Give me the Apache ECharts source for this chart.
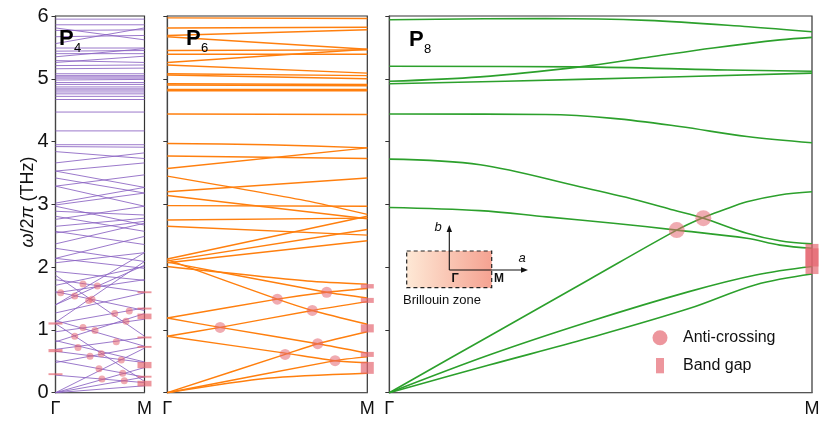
<!DOCTYPE html>
<html>
<head>
<meta charset="utf-8">
<script src="https://cdn.jsdelivr.net/npm/echarts@6/dist/echarts.min.js"></script>
<style>html,body{margin:0;padding:0;background:#fff;}#c{width:830px;height:425px;}</style>
</head>
<body>
<div id="c"></div>
<script>
// ---------- data ----------
const xTickLabels = ['Γ', 'M'];
const yMin = 0, yMax = 6, yStep = 1;

// P4 bands: [value at Γ, value at M] (straight folded branches)
const p4Bands = [
  [5.95,5.95],[5.86,5.86],[5.81,5.62],[5.56,5.81],[5.77,5.78],[5.67,5.69],[5.49,5.49],[5.44,5.45],
  [5.40,5.40],[5.35,5.48],[5.29,5.26],[5.26,5.36],[5.21,5.22],[5.16,5.17],[5.08,5.08],[5.05,5.05],
  [5.03,5.03],[5.01,5.01],[4.98,4.99],[4.94,4.94],[4.91,4.91],[4.87,4.87],[4.84,4.84],[4.82,4.82],
  [4.79,4.79],[4.76,4.76],[4.72,4.72],[4.67,4.67],[4.47,4.47],[4.17,4.17],
  [3.95,3.95],[3.92,3.91],[3.84,3.73],[3.66,3.82],[3.53,3.66],[3.53,3.27],[3.42,3.18],[3.29,3.47],
  [3.29,2.97],[3.02,3.27],[2.99,3.18],[2.97,2.67],[2.89,2.83],[2.81,2.57],[2.76,2.97],[2.65,2.78],
  [2.57,2.36],[2.545,2.73],[2.37,2.70],[2.30,2.09],[2.14,2.49],[2.07,2.23],[2.14,1.98],
  [1.93,1.79],[1.71,2.01],[1.40,2.03],[1.40,2.23],[1.12,2.09],[1.80,1.60],[1.59,1.80],[1.87,0.90],
  [1.61,1.31],[1.27,1.59],[1.10,1.35],[1.15,0.74],[1.10,0.18],[0.97,1.17],[0.81,1.26],[0.83,0.49],
  [0.69,0.88],[0.66,0.48],[0.48,0.74],[0.51,0.25],[0.28,0.16],[0,0.71],[0,0.40],[0,0.25],[0,0.11]
];
const p4Circles = [
  [0.058,1.59],[0.216,1.54],[0.309,1.73],[0.470,1.70],[0.373,1.47],[0.410,1.49],[0.665,1.26],
  [0.829,1.30],[0.792,1.14],[0.309,1.04],[0.444,0.99],[0.216,0.90],[0.683,0.81],[0.253,0.72],
  [0.388,0.58],[0.515,0.62],[0.739,0.52],[0.489,0.38],[0.755,0.31],[0.522,0.22],[0.773,0.19]
];
const p4GapsGamma = [[1.085,1.12],[0.645,0.695],[0.28,0.31]];
const p4GapsM = [[1.585,1.615],[1.325,1.355],[1.17,1.26],[0.865,0.895],[0.715,0.745],[0.39,0.49],[0.24,0.27],[0.10,0.19]];

// P6 bands: lists of [k, value]
const p6Bands = [
  [[0,5.97],[1,5.96]],[[0,5.81],[1,5.82]],[[0,5.69],[1,5.78]],[[0,5.67],[1,5.47]],
  [[0,5.45],[1,5.46]],[[0,5.39],[1,5.39]],[[0,5.26],[1,5.47]],[[0,5.22],[1,5.09]],
  [[0,5.08],[1,5.05]],[[0,5.06],[1,5.00]],[[0,4.92],[1,4.91]],[[0,4.90],[1,4.89]],
  [[0,4.83],[1,4.83]],[[0,4.81],[1,4.81]],[[0,4.44],[1,4.43]],
  [[0,3.97],[0.5,3.95],[1,3.90]],[[0,3.77],[1,3.73]],[[0,3.57],[1,3.90]],
  [[0,3.45],[0.69,3.06],[1,2.84]],[[0,3.20],[1,3.42]],[[0,3.14],[1,2.77]],
  [[0,2.98],[1,2.97]],[[0,2.75],[1,2.78]],[[0,2.65],[1,2.51]],
  [[0,2.13],[1,2.81]],[[0,2.10],[1,2.60]],[[0,2.07],[1,2.42]],
  [[0,2.01],[0.7,1.78],[1,1.73]],
  [[0,2.12],[0.55,1.49],[0.725,1.31],[1,1.09]],
  [[0,2.08],[0.797,1.60],[1,1.51]],
  [[0,1.19],[0.55,1.49],[0.797,1.60],[1,1.66]],
  [[0,1.19],[0.264,1.04],[0.752,0.78],[1,0.63]],
  [[0,0.90],[0.264,1.04],[0.725,1.31],[1,1.45]],
  [[0,0.90],[0.589,0.63],[0.839,0.51],[1,0.48]],
  [[0,0],[0.589,0.61],[0.752,0.78],[1,0.97]],
  [[0,0],[0.839,0.51],[1,0.57]],
  [[0,0],[0.5,0.23],[1,0.31]]
];
const p6Circles = [[0.264,1.04],[0.55,1.49],[0.797,1.60],[0.725,1.31],[0.589,0.61],[0.752,0.78],[0.839,0.51]];
const p6GapsM = [[1.66,1.73],[1.43,1.51],[0.96,1.09],[0.57,0.65],[0.30,0.49]];

// P8 bands
const p8Bands = [
  [[0,5.94],[0.37,5.96],[0.61,5.93],[0.85,5.83],[1,5.75]],
  [[0,4.96],[0.215,5.03],[0.451,5.19],[0.609,5.34],[0.766,5.49],[0.924,5.62],[1,5.66]],
  [[0,5.20],[0.45,5.19],[0.8,5.14],[1,5.12]],
  [[0,4.92],[0.45,4.99],[1,5.09]],
  [[0,4.44],[0.37,4.43],[0.529,4.37],[0.687,4.24],[0.846,4.08],[1,3.98]],
  [[0,3.72],[0.215,3.63],[0.451,3.28],[0.585,3.07],[0.672,2.91],[0.743,2.78],[0.846,2.54],[0.924,2.42],[1,2.37]],
  [[0,2.95],[0.214,2.90],[0.372,2.80],[0.53,2.70],[0.68,2.59],[0.846,2.46],[0.924,2.35],[1,2.30]],
  [[0,0],[0.236,0.90],[0.472,1.80],[0.68,2.59],[0.743,2.79],[0.79,2.91],[0.846,3.04],[0.924,3.15],[1,3.20]],
  [[0,0],[0.236,0.60],[0.472,1.13],[0.709,1.61],[0.867,1.875],[1,2.01]],
  [[0,0],[0.236,0.44],[0.472,0.87],[0.709,1.34],[0.867,1.72],[1,1.89]]
];
const p8Circles = [[0.680,2.59],[0.743,2.78]];
const p8GapsM = [[1.89,2.30],[2.01,2.37]];

const panelNames = ['4', '6', '8'];

// ---------- styling ----------
const FONT = 'Liberation Sans, Arial, Helvetica, sans-serif';
const PINK = 'rgba(228,100,110,0.68)';
const grids = [
  {left: 55.5, top: 16, width: 89, height: 376.7},
  {left: 167.3, top: 16, width: 200, height: 376.7},
  {left: 389.3, top: 16, width: 422.7, height: 376.7}
];

const chart = echarts.init(document.getElementById('c'), null, {renderer: 'canvas'});

function bandSeries(bands, gi, color, width, opacity, smooth) {
  return bands.map(pts => ({
    type: 'line', xAxisIndex: gi, yAxisIndex: gi, data: pts,
    symbol: 'none', showSymbol: false, smooth: pts.length > 2 ? smooth : false,
    lineStyle: {color: color, width: width, opacity: opacity},
    silent: true, animation: false, z: 2
  }));
}
function circleSeries(pts, gi, size) {
  return {type: 'scatter', xAxisIndex: gi, yAxisIndex: gi, data: pts, symbol: 'circle',
    symbolSize: size, itemStyle: {color: PINK}, silent: true, animation: false, z: 5};
}
function gapSeries(gaps, k, gi, w) {
  return {type: 'custom', xAxisIndex: gi, yAxisIndex: gi, clip: false, silent: true, animation: false, z: 6,
    data: gaps.map(g => [k, g[0], g[1]]),
    encode: {x: 0, y: [1, 2]},
    renderItem: function (params, api) {
      const p0 = api.coord([api.value(0), api.value(1)]);
      const p1 = api.coord([api.value(0), api.value(2)]);
      return {type: 'rect', shape: {x: p0[0] - w / 2, y: p1[1], width: w, height: Math.max(p0[1] - p1[1], 1)},
        style: {fill: PINK}};
    }};
}

const series = [].concat(
  bandSeries(p4Bands.map(b => [[0, b[0]], [1, b[1]]]), 0, '#8a62c2', 1, 0.85, false),
  bandSeries(p6Bands, 1, '#ff7f0e', 1.4, 1, 0.25),
  bandSeries(p8Bands, 2, '#2ca02c', 1.6, 1, 0.35),
  [circleSeries(p4Circles, 0, 7), circleSeries(p6Circles, 1, 11), circleSeries(p8Circles, 2, 16),
   gapSeries(p4GapsGamma, 0, 0, 14), gapSeries(p4GapsM, 1, 0, 14),
   gapSeries(p6GapsM, 1, 1, 13), gapSeries(p8GapsM, 1, 2, 13)]
);

const xAxes = grids.map((g, i) => ({
  type: 'value', gridIndex: i, min: 0, max: 1, interval: 1,
  axisLine: {show: true, lineStyle: {color: '#555', width: 1.2}},
  axisTick: {show: false}, splitLine: {show: false},
  axisLabel: {fontSize: 18, color: '#111', fontFamily: FONT, margin: 7,
    formatter: v => xTickLabels[Math.round(v)]}
}));
const yAxes = grids.map((g, i) => ({
  type: 'value', gridIndex: i, min: yMin, max: yMax, interval: yStep,
  axisLine: {show: true, lineStyle: {color: '#444', width: 1.2}},
  axisTick: {show: true, length: 4, lineStyle: {color: '#333'}},
  splitLine: {show: false},
  axisLabel: {show: i === 0, fontSize: 20, color: '#111', fontFamily: FONT, margin: 7}
}));

const graphics = [];
// panel labels
const labelPos = [[59, 39], [186, 39], [409, 40]];
labelPos.forEach((p, i) => {
  graphics.push({type: 'text', x: p[0], y: p[1], z: 20,
    style: {text: 'P', font: 'bold 22px ' + FONT, fill: '#000', verticalAlign: 'middle', align: 'left'}});
  graphics.push({type: 'text', x: p[0] + 15, y: p[1] + 9, z: 20,
    style: {text: panelNames[i], font: '13px ' + FONT, fill: '#000', verticalAlign: 'middle', align: 'left'}});
});
// y axis title
graphics.push({type: 'text', x: 28, y: 202, rotation: Math.PI / 2, z: 20,
  style: {text: '{i|ω}/2{i|π} (THz)', fontSize: 18, fontFamily: FONT, fill: '#111',
    align: 'center', verticalAlign: 'middle',
    rich: {i: {fontStyle: 'italic', fontSize: 18, fontFamily: FONT, fill: '#111'}}}});
// Brillouin zone inset
graphics.push({type: 'rect', z: 20, shape: {x: 406.7, y: 251, width: 85, height: 36.7},
  style: {fill: new echarts.graphic.LinearGradient(0, 0, 1, 0, [
    {offset: 0, color: '#fee9d6'}, {offset: 1, color: '#f5a291'}]),
    stroke: '#222', lineWidth: 1.2, lineDash: [4, 3]}});
graphics.push({type: 'line', z: 21, shape: {x1: 449.3, y1: 270, x2: 449.3, y2: 230}, style: {stroke: '#111', lineWidth: 1.1}});
graphics.push({type: 'polygon', z: 21, shape: {points: [[449.3, 225], [446.6, 232], [452, 232]]}, style: {fill: '#111'}});
graphics.push({type: 'line', z: 21, shape: {x1: 449.3, y1: 270, x2: 523, y2: 270}, style: {stroke: '#111', lineWidth: 1.1}});
graphics.push({type: 'polygon', z: 21, shape: {points: [[528, 270], [521, 267.3], [521, 272.7]]}, style: {fill: '#111'}});
graphics.push({type: 'text', x: 438, y: 227, z: 21, style: {text: 'b', font: 'italic 13px ' + FONT, fill: '#111', align: 'center', verticalAlign: 'middle'}});
graphics.push({type: 'text', x: 522, y: 258, z: 21, style: {text: 'a', font: 'italic 13px ' + FONT, fill: '#111', align: 'center', verticalAlign: 'middle'}});
graphics.push({type: 'text', x: 455, y: 279, z: 21, style: {text: 'Γ', font: 'bold 12px ' + FONT, fill: '#111', align: 'center', verticalAlign: 'middle'}});
graphics.push({type: 'text', x: 499, y: 279, z: 21, style: {text: 'M', font: 'bold 12px ' + FONT, fill: '#111', align: 'center', verticalAlign: 'middle'}});
graphics.push({type: 'text', x: 403, y: 300, z: 21, style: {text: 'Brillouin zone', font: '13px ' + FONT, fill: '#111', align: 'left', verticalAlign: 'middle'}});
// legend
graphics.push({type: 'circle', z: 21, shape: {cx: 660, cy: 337.7, r: 7.5}, style: {fill: PINK}});
graphics.push({type: 'text', x: 683, y: 338, z: 21, style: {text: 'Anti-crossing', font: '16px ' + FONT, fill: '#111', align: 'left', verticalAlign: 'middle'}});
graphics.push({type: 'rect', z: 21, shape: {x: 656, y: 358, width: 8, height: 15.3}, style: {fill: PINK}});
graphics.push({type: 'text', x: 683, y: 366, z: 21, style: {text: 'Band gap', font: '16px ' + FONT, fill: '#111', align: 'left', verticalAlign: 'middle'}});

chart.setOption({
  animation: false,
  backgroundColor: '#fff',
  grid: grids.map(g => Object.assign({show: true, borderColor: '#333', borderWidth: 1.2, backgroundColor: 'transparent'}, g)),
  xAxis: xAxes,
  yAxis: yAxes,
  series: series,
  graphic: graphics
});
</script>
</body>
</html>
